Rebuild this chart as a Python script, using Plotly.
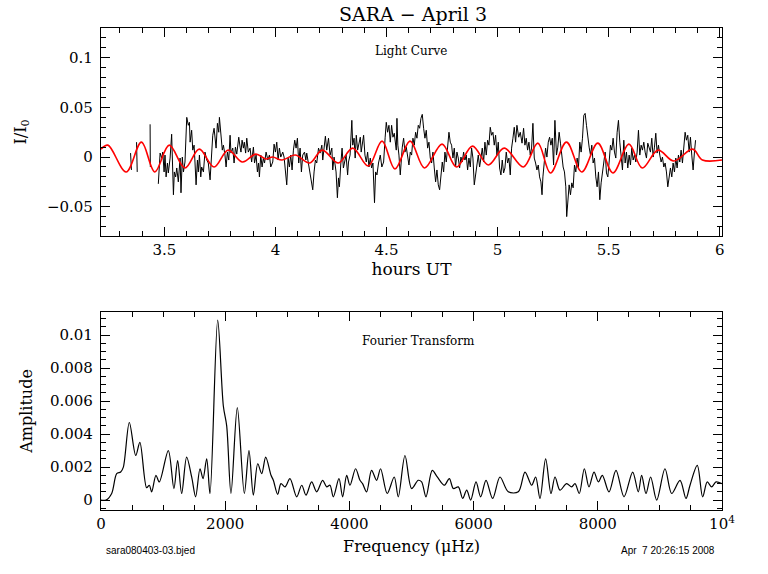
import plotly.graph_objects as go

# ---------------- Light curve (hours UT, I/I0) ----------------
# three short isolated segments near the start, then the main run
lc_seg_hours = [3.348, 3.352, None, 3.375, 3.378, None, 3.436, 3.437, None]
lc_seg_flux = [0.004, -0.013, None, 0.015, -0.015, None, 0.033, -0.010, None]

lc_hours = [
    3.473, 3.481, 3.488, 3.493, 3.499, 3.503, 3.508, 3.514, 3.518, 3.526,
    3.533, 3.538, 3.541, 3.545, 3.551, 3.556, 3.563, 3.571, 3.575, 3.581,
    3.586, 3.593, 3.601, 3.608, 3.613, 3.616, 3.623, 3.628, 3.634, 3.638,
    3.643, 3.649, 3.653, 3.658, 3.664, 3.668, 3.676, 3.683, 3.691, 3.698,
    3.706, 3.710, 3.718, 3.724, 3.730, 3.733, 3.739, 3.745, 3.748, 3.752,
    3.757, 3.761, 3.766, 3.773, 3.778, 3.784, 3.790, 3.796, 3.800, 3.808,
    3.814, 3.820, 3.826, 3.835, 3.841, 3.845, 3.850, 3.856, 3.860, 3.866,
    3.871, 3.878, 3.886, 3.893, 3.901, 3.906, 3.913, 3.919, 3.924, 3.928,
    3.934, 3.940, 3.946, 3.951, 3.958, 3.966, 3.973, 3.979, 3.988, 3.994,
    4.000, 4.006, 4.012, 4.018, 4.024, 4.033, 4.039, 4.045, 4.051, 4.057,
    4.063, 4.069, 4.075, 4.081, 4.087, 4.093, 4.099, 4.105, 4.111, 4.117,
    4.123, 4.131, 4.137, 4.141, 4.149, 4.156, 4.162, 4.168, 4.174, 4.180,
    4.186, 4.194, 4.201, 4.209, 4.213, 4.219, 4.225, 4.231, 4.239, 4.246,
    4.254, 4.258, 4.264, 4.273, 4.279, 4.284, 4.288, 4.294, 4.300, 4.306,
    4.312, 4.318, 4.325, 4.329, 4.336, 4.344, 4.348, 4.354, 4.359, 4.364,
    4.370, 4.376, 4.382, 4.386, 4.392, 4.397, 4.403, 4.409, 4.415, 4.421,
    4.427, 4.433, 4.439, 4.446, 4.451, 4.457, 4.464, 4.472, 4.479, 4.487,
    4.494, 4.499, 4.505, 4.511, 4.517, 4.523, 4.529, 4.535, 4.544, 4.547,
    4.551, 4.556, 4.562, 4.566, 4.571, 4.577, 4.583, 4.589, 4.595, 4.601,
    4.607, 4.613, 4.619, 4.625, 4.631, 4.637, 4.643, 4.649, 4.655, 4.661,
    4.667, 4.673, 4.679, 4.685, 4.691, 4.697, 4.703, 4.709, 4.715, 4.721,
    4.727, 4.733, 4.739, 4.745, 4.751, 4.757, 4.763, 4.769, 4.775, 4.781,
    4.787, 4.793, 4.799, 4.805, 4.811, 4.817, 4.823, 4.829, 4.835, 4.841,
    4.847, 4.853, 4.859, 4.865, 4.871, 4.877, 4.883, 4.889, 4.895, 4.901,
    4.907, 4.913, 4.919, 4.925, 4.931, 4.937, 4.943, 4.949, 4.955, 4.961,
    4.967, 4.973, 4.979, 4.985, 4.991, 4.997, 5.003, 5.009, 5.015, 5.021,
    5.027, 5.033, 5.039, 5.045, 5.051, 5.057, 5.063, 5.069, 5.075, 5.081,
    5.087, 5.095, 5.102,
    5.110, 5.117, 5.123, 5.129, 5.135, 5.141, 5.147, 5.153, 5.159, 5.165,
    5.171, 5.177, 5.183, 5.189, 5.195, 5.200, 5.204, 5.210, 5.216, 5.222,
    5.228, 5.234, 5.240, 5.246, 5.252, 5.258, 5.265, 5.271, 5.277, 5.283,
    5.289, 5.295, 5.301, 5.307, 5.311, 5.316, 5.322, 5.328, 5.334, 5.340,
    5.346, 5.352, 5.358, 5.364, 5.370, 5.376, 5.382, 5.388, 5.394, 5.400,
    5.406, 5.412, 5.418, 5.424, 5.430, 5.436, 5.442, 5.448, 5.454, 5.460,
    5.466, 5.472, 5.478, 5.484, 5.490, 5.496, 5.502, 5.508, 5.514, 5.520,
    5.526, 5.532, 5.538, 5.544, 5.550, 5.556, 5.562, 5.568, 5.574, 5.580,
    5.586, 5.592, 5.598, 5.604, 5.610, 5.616, 5.622, 5.628, 5.634, 5.640,
    5.646, 5.652, 5.658, 5.664, 5.670, 5.676, 5.682, 5.688, 5.694, 5.700,
    5.706, 5.712, 5.718, 5.724, 5.730, 5.736, 5.742, 5.748, 5.754, 5.760,
    5.766, 5.772, 5.778, 5.784, 5.790, 5.796, 5.802, 5.808, 5.814, 5.820,
    5.826, 5.832, 5.838, 5.844, 5.850, 5.856, 5.862, 5.868, 5.874, 5.880,
    5.886, 5.891,
]
lc_flux = [
    -0.027, 0.004, -0.001, 0.005, -0.015, 0.002, -0.020, -0.006, -0.016, -0.001,
    0.023, -0.015, -0.038, -0.015, -0.020, -0.011, -0.025, -0.001, -0.036, 0.000,
    -0.015, -0.005, 0.040, 0.032, 0.035, 0.015, 0.027, 0.007, 0.012, -0.005,
    -0.028, -0.003, -0.015, 0.002, -0.020, -0.010, -0.015, 0.005, -0.003, -0.006,
    -0.023, -0.008, 0.022, 0.029, 0.019, 0.009, 0.034, 0.025, 0.040, 0.030,
    0.019, 0.007, 0.012, 0.002, -0.010, 0.005, -0.003, 0.022, 0.004, 0.009,
    -0.006, 0.010, 0.003, 0.020, 0.010, 0.005, 0.017, 0.009, 0.015, 0.004,
    0.019, 0.005, 0.009, -0.005, 0.010, -0.006, 0.002, -0.015, -0.006, -0.020,
    0.002, -0.010, -0.001, -0.006, 0.005, -0.003, 0.002, -0.010, -0.005, 0.013,
    0.005, 0.015, -0.003, 0.009, 0.000, 0.005, 0.000, -0.016, -0.028, -0.001,
    -0.010, 0.002, -0.013, 0.007, 0.017, 0.009, 0.019, -0.006, 0.009, -0.015,
    0.002, 0.005, -0.003, 0.004, -0.006, -0.015, -0.026, -0.033, -0.015, -0.003,
    -0.006, 0.009, 0.004, 0.012, -0.003, 0.012, 0.021, 0.007, 0.019, 0.002,
    0.009, -0.013, 0.000, -0.015, -0.041, -0.021, -0.030, -0.008, 0.009, -0.011,
    -0.005, 0.002, -0.018, -0.005, 0.002, 0.037, 0.012, 0.019, -0.001, 0.022,
    0.007, 0.015, 0.020, 0.005, 0.014, 0.022, 0.002, -0.005, 0.005, -0.010,
    -0.001, -0.011, -0.006, -0.046, -0.015, -0.018, -0.006, 0.002, -0.010, -0.005,
    0.020, 0.035, 0.025, 0.032, 0.015, 0.032, 0.020, 0.024, 0.007, 0.039,
    0.012, 0.002, -0.018, -0.005, 0.010, 0.019, 0.005, 0.010, 0.002, -0.008,
    0.005, 0.002, 0.019, 0.012, 0.025, 0.019, 0.032, 0.029, 0.039, 0.043,
    0.029, 0.019, 0.027, 0.009, 0.015, -0.001, -0.006, 0.005, -0.011, -0.025,
    -0.013, -0.028, -0.033, -0.021, -0.005, -0.015, 0.005, -0.005, 0.015, 0.025,
    0.015, 0.012, -0.001, 0.009, -0.010, 0.005, -0.001, -0.011, 0.000, -0.005,
    0.005, -0.003, 0.002, -0.013, -0.001, -0.010, 0.009, -0.001, -0.028, -0.015,
    -0.008, 0.002, -0.010, -0.001, 0.009, -0.005, 0.015, 0.002, 0.017, 0.012,
    0.030, 0.022, 0.025, 0.012, 0.022, 0.002, 0.015, -0.011, -0.018, -0.003,
    -0.016, -0.011, 0.005, -0.006, -0.001, -0.018, 0.009, 0.019, 0.030, 0.015,
    0.032, 0.020, 0.025,
    0.014, 0.029, 0.012, 0.019, 0.007, 0.015, 0.002, 0.009, 0.034, -0.001,
    -0.006, -0.013, -0.008, -0.020, -0.025, -0.038, -0.020, -0.006, 0.009, 0.000,
    0.015, 0.020, 0.012, 0.019, -0.008, 0.037, 0.002, 0.010, 0.025, 0.014,
    0.002, -0.010, -0.015, -0.030, -0.060, -0.041, -0.028, -0.038, -0.026, -0.031,
    -0.008, -0.015, -0.001, -0.010, 0.015, 0.005, 0.019, 0.042, 0.044, 0.032,
    0.019, 0.010, 0.002, 0.012, -0.006, -0.001, -0.020, -0.030, -0.015, -0.043,
    -0.026, -0.015, -0.006, 0.005, -0.016, -0.020, -0.005, 0.012, 0.007, 0.019,
    0.005, -0.001, 0.025, 0.037, 0.015, -0.001, -0.013, 0.017, -0.006, 0.005,
    -0.011, 0.002, -0.008, 0.009, -0.003, 0.002, -0.005, 0.005, 0.027, 0.002,
    0.012, 0.007, 0.015, 0.005, -0.001, 0.014, 0.010, 0.005, 0.019, 0.000,
    0.010, 0.024, 0.004, 0.012, 0.002, -0.005, 0.000, -0.010, -0.006, -0.015,
    -0.030, -0.018, -0.011, -0.020, -0.006, -0.015, -0.001, -0.011, 0.002, -0.005,
    0.007, -0.006, 0.012, 0.025, 0.017, 0.022, 0.005, 0.020, 0.002, -0.013,
    0.005, 0.017,
]

# ---------------- Sinusoid fit (red), turning points ----------------
fit_hours = [
    3.215, 3.246, 3.328, 3.397, 3.457, 3.522, 3.593, 3.657, 3.724, 3.787,
    3.852, 3.912, 3.957, 3.987, 4.030, 4.089, 4.154, 4.211, 4.283, 4.348,
    4.418, 4.480, 4.538, 4.606, 4.671, 4.750, 4.815, 4.887, 4.958, 5.030,
    5.116, 5.181, 5.238, 5.310, 5.379, 5.451, 5.519, 5.591, 5.651, 5.722,
    5.793, 5.878, 5.922, 6.010,
]
fit_flux = [
    0.008, 0.012, -0.015, 0.015, -0.015, 0.012, -0.011, 0.008, -0.010, 0.007,
    -0.005, 0.003, -0.002, 0.000, -0.003, 0.002, -0.006, 0.007, -0.006, 0.009,
    -0.009, 0.016, -0.012, 0.016, -0.011, 0.013, -0.010, 0.011, -0.008, 0.009,
    -0.010, 0.014, -0.016, 0.015, -0.015, 0.014, -0.016, 0.013, -0.011, 0.007,
    -0.004, 0.008, -0.003, -0.003,
]

# ---------------- Fourier transform (muHz, amplitude) ----------------
ft_freq = [
    0, 80, 172, 253, 317, 360, 456, 559, 626, 735, 778, 816, 885, 939, 1084,
    1174, 1234, 1299, 1379, 1460, 1524, 1594, 1643, 1702, 1755, 1879, 1970,
    2024, 2093, 2195, 2308, 2383, 2453, 2524, 2588, 2652, 2738, 2775, 2845,
    2898, 2963, 3043, 3151, 3232, 3301, 3392, 3473, 3569, 3634, 3687, 3741,
    3832, 3891, 3956, 4009, 4100, 4170, 4212, 4277, 4357, 4438, 4502, 4609,
    4722, 4787, 4895, 5002, 5109, 5163, 5233, 5334, 5415, 5528, 5609, 5674,
    5754, 5824, 5889, 5953, 6039, 6114, 6200, 6307, 6425, 6559, 6720, 6828,
    6935, 6999, 7069, 7160, 7246, 7311, 7391, 7498, 7579, 7633, 7702, 7783,
    7858, 7939, 8009, 8073, 8180, 8293, 8422, 8562, 8652, 8706, 8776, 8851,
    8948, 9082, 9189, 9324, 9420, 9485, 9602, 9688, 9763, 9833, 9903, 10000,
]
ft_amp = [
    0.0, 0.0, 0.0004, 0.0016, 0.0017, 0.0020, 0.0047, 0.0027, 0.0035, 0.00075,
    0.0009, 0.0005, 0.0015, 0.0011, 0.0030, 0.0007, 0.0024, 0.0004, 0.0026,
    0.0014, 0.0002, 0.0019, 0.0013, 0.0025, 0.0004, 0.0109, 0.0057, 0.0045,
    0.0004, 0.0056, 0.0004, 0.0030, 0.0003, 0.0022, 0.0016, 0.0026, 0.0015,
    0.0012, 0.00035, 0.0010, 0.0008, 0.0013, 0.0002, 0.0009, 0.0003, 0.0011,
    0.0005, 0.0012, 0.0008, 0.0009, 0.0002, 0.0013, 0.0002, 0.0015, 0.0009,
    0.0019, 0.0012, 0.0010, 0.0005, 0.0018, 0.0012, 0.0019, 0.0004, 0.0014,
    0.0002, 0.0027, 0.0007, 0.0012, 0.0011, 0.0002, 0.0018, 0.0014, 0.0009,
    0.0013, 0.0007, 0.0008, 0.0001, 0.0006, 0.0000, 0.0011, 0.0002, 0.0012,
    0.0001, 0.0014, 0.0005, 0.0005, 0.0017, 0.0009, 0.0014, 0.0001, 0.0025,
    0.0004, 0.0014, 0.0006, 0.0010, 0.0008, 0.0010, 0.0004, 0.0019, 0.0008,
    0.0017, 0.0011, 0.0015, 0.0005, 0.0018, 0.0002, 0.0017, 0.0005, 0.0015,
    0.0004, 0.0014, 0.0000, 0.0019, 0.0004, 0.0012, 0.0001, 0.0009, 0.0021,
    0.0002, 0.0011, 0.0008, 0.0011, 0.0010,
]

top_xticks = [3.5, 4, 4.5, 5, 5.5, 6]
top_xlabels = ["3.5", "4", "4.5", "5", "5.5", "6"]
top_yticks = [-0.05, 0, 0.05, 0.1]
top_ylabels = ["\u22120.05", "0", "0.05", "0.1"]
bot_xticks = [0, 2000, 4000, 6000, 8000, 10000]
bot_xlabels = ["0", "2000", "4000", "6000", "8000", "10<sup>4</sup>"]
bot_yticks = [0, 0.002, 0.004, 0.006, 0.008, 0.01]
bot_ylabels = ["0", "0.002", "0.004", "0.006", "0.008", "0.01"]

SERIF = "DejaVu Serif"
fig = go.Figure()

fig.add_trace(go.Scatter(x=lc_seg_hours + lc_hours, y=lc_seg_flux + lc_flux,
                         mode="lines", line=dict(color="black", width=1),
                         connectgaps=False, xaxis="x", yaxis="y", showlegend=False))
fig.add_trace(go.Scatter(x=fit_hours, y=fit_flux, mode="lines",
                         line=dict(color="#ff0000", width=1.6, shape="spline", smoothing=1.0),
                         xaxis="x", yaxis="y", showlegend=False))
fig.add_trace(go.Scatter(x=ft_freq, y=ft_amp, mode="lines",
                         line=dict(color="black", width=1.2, shape="spline", smoothing=0.9),
                         xaxis="x2", yaxis="y2", showlegend=False))

axis_common = dict(showline=True, linecolor="black", linewidth=1.3, mirror="allticks",
                   ticks="inside", ticklen=9, tickwidth=1, tickcolor="black",
                   showgrid=False, zeroline=False, automargin=False,
                   tickfont=dict(family=SERIF, size=15, color="black"))

TITLE_FONT = dict(family=SERIF, size=16, color="black")

fig.update_layout(
    width=768, height=574,
    paper_bgcolor="white", plot_bgcolor="white",
    margin=dict(l=101, r=46, t=28, b=64),
    xaxis=dict(domain=[0, 1], anchor="y", range=[3.215, 6.01],
               tickmode="array", tickvals=top_xticks, ticktext=top_xlabels,
               title=dict(text="hours UT", font=dict(family=SERIF, size=17, color="black"),
                          standoff=3),
               minor=dict(ticks="inside", ticklen=5, dtick=0.1, tick0=3.5, tickcolor="black"),
               **axis_common),
    yaxis=dict(domain=[0.5685, 1], anchor="x", range=[-0.0795, 0.13],
               tickmode="array", tickvals=top_yticks, ticktext=top_ylabels,
               ticklabelstandoff=4,
               title=dict(text="I/I<sub>0</sub>", font=TITLE_FONT, standoff=16),
               minor=dict(ticks="inside", ticklen=5, dtick=0.01, tick0=0, tickcolor="black"),
               **axis_common),
    xaxis2=dict(domain=[0, 1], anchor="y2", range=[0, 10000],
                tickmode="array", tickvals=bot_xticks, ticktext=bot_xlabels,
                title=dict(text="Frequency (\u03bcHz)", font=TITLE_FONT, standoff=8),
                minor=dict(ticks="inside", ticklen=5, dtick=500, tick0=0, tickcolor="black"),
                **axis_common),
    yaxis2=dict(domain=[0, 0.411], anchor="x2", range=[-0.0006, 0.0114],
                tickmode="array", tickvals=bot_yticks, ticktext=bot_ylabels,
                ticklabelstandoff=4,
                title=dict(text="Amplitude", font=TITLE_FONT, standoff=13),
                minor=dict(ticks="inside", ticklen=5, dtick=0.0005, tick0=0, tickcolor="black"),
                **axis_common),
)

def ann(text, x, y, size, family=SERIF, angle=0, xanchor="center"):
    fig.add_annotation(text=text, x=x, y=y, xref="paper", yref="paper",
                       showarrow=False, textangle=angle, xanchor=xanchor, yanchor="middle",
                       font=dict(family=family, size=size, color="black"))

ann("SARA \u2212 April 3", 0.502, 1.029, 19)
ann("Light Curve", 0.499, 0.952, 12)
ann("Fourier Transform", 0.512, 0.351, 12)
ann("sara080403-03.bjed", 0.079, -0.085, 10, family="Liberation Sans")
ann("Apr  7 20:26:15 2008", 0.913, -0.085, 10, family="Liberation Sans")

fig.write_html("out.html", config={"displayModeBar": False},
               post_script="document.body.style.margin='0px';document.body.style.padding='0px';")
